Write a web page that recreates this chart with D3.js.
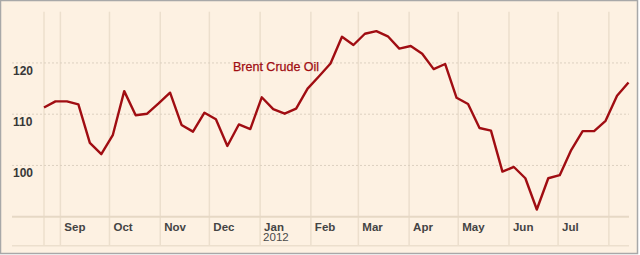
<!DOCTYPE html>
<html>
<head>
<meta charset="utf-8">
<script src="https://cdn.jsdelivr.net/npm/d3@7"></script>
<style>
	body { margin: 0; background: #ffffff; }
	text { font-family: "Liberation Sans", Arial, sans-serif; }
</style>
</head>
<body>
<svg width="640" height="255"></svg>
<script>

// Data: weekly Brent crude price, $ per barrel
var firstWeek = new Date(2011, 7, 22); // week starting 22 Aug 2011
var brentPrices = [
	111.3, 112.5, 112.5, 111.9, 104.4, 102.2, 105.9, 114.5, 109.8, 110.1,
	112.1, 114.2, 107.9, 106.6, 110.3, 109.0, 103.8, 108.0, 107.1, 113.3,
	111.0, 110.1, 111.1, 115.0, 117.4, 119.9, 125.1, 123.5, 125.7, 126.2,
	125.2, 122.8, 123.3, 121.8, 118.8, 119.8, 113.2, 112.0, 107.3, 106.8,
	98.8, 99.7, 97.5, 91.4, 97.5, 98.1, 103.0, 106.7, 106.7, 108.7,
	113.6, 116.2
];
var yTicks = [100, 110, 120];
var monthLabels = ["Sep", "Oct", "Nov", "Dec", "Jan", "Feb", "Mar", "Apr", "May", "Jun", "Jul"];
var seriesName = "Brent Crude Oil";

var dates = brentPrices.map(function(d, i) { return d3.timeDay.offset(firstWeek, 7 * i); });

var svg = d3.select("svg");

// frame
svg.append("rect")
	.attr("x", 0.5).attr("y", 0.5)
	.attr("width", 637).attr("height", 253)
	.attr("fill", "#fdf1e2")
	.attr("stroke", "#a8a8a8")
	.attr("stroke-width", 1.5);

var x = d3.scaleTime()
	.domain([dates[0], dates[dates.length - 1]])
	.range([44, 628.5]);

var y = d3.scaleLinear()
	.domain([90, 130])
	.range([216.7, 11.7]);

var gridLeft = 12, gridRight = 629, axisBottom = 245.7;

// month boundaries
var months = d3.timeMonth.range(new Date(2011, 8, 1), new Date(2012, 7, 2));

svg.append("g")
	.selectAll("line")
	.data([dates[0]].concat(months))
	.join("line")
		.attr("x1", function(d) { return x(d); })
		.attr("x2", function(d) { return x(d); })
		.attr("y1", y(130))
		.attr("y2", axisBottom)
		.attr("stroke", "#ecdfcd")
		.attr("stroke-width", 1.5);

// horizontal dotted grid
svg.append("g")
	.selectAll("line")
	.data(yTicks)
	.join("line")
		.attr("x1", gridLeft)
		.attr("x2", gridRight)
		.attr("y1", function(d) { return y(d); })
		.attr("y2", function(d) { return y(d); })
		.attr("stroke", "#dcd0c0")
		.attr("stroke-dasharray", "2,2")
		.attr("stroke-width", 1);

// y labels
svg.append("g")
	.selectAll("text")
	.data(yTicks)
	.join("text")
		.attr("x", 13)
		.attr("y", function(d) { return y(d) + 12; })
		.attr("font-size", 12)
		.attr("font-weight", "bold")
		.attr("fill", "#383838")
		.text(function(d) { return d; });

// axis lines
svg.append("line")
	.attr("x1", gridLeft).attr("x2", gridRight)
	.attr("y1", y(90)).attr("y2", y(90))
	.attr("stroke", "#e6d8c5")
	.attr("stroke-width", 2);

svg.append("line")
	.attr("x1", gridLeft).attr("x2", gridRight)
	.attr("y1", axisBottom).attr("y2", axisBottom)
	.attr("stroke", "#ecdfcd")
	.attr("stroke-width", 1.5);

// month labels
svg.append("g")
	.selectAll("text")
	.data(months.slice(0, monthLabels.length))
	.join("text")
		.attr("x", function(d) { return x(d) + 4; })
		.attr("y", 230.5)
		.attr("font-size", 11.5)
		.attr("font-weight", "bold")
		.attr("fill", "#444444")
		.text(function(d, i) { return monthLabels[i]; });

svg.append("text")
	.attr("x", x(new Date(2012, 0, 1)) + 3)
	.attr("y", 241)
	.attr("font-size", 11.5)
	.attr("fill", "#4a4a4a")
	.text("2012");

// the line
var line = d3.line()
	.x(function(d, i) { return x(dates[i]); })
	.y(function(d) { return y(d); });

svg.append("path")
	.datum(brentPrices)
	.attr("d", line)
	.attr("fill", "none")
	.attr("stroke", "#a00d12")
	.attr("stroke-width", 2.4)
	.attr("stroke-linejoin", "round");

svg.append("text")
	.attr("x", 233)
	.attr("y", 71)
	.attr("font-size", 12.5)
	.attr("fill", "#a00d12")
	.attr("stroke", "#a00d12")
	.attr("stroke-width", 0.25)
	.text(seriesName);

</script>
</body>
</html>
